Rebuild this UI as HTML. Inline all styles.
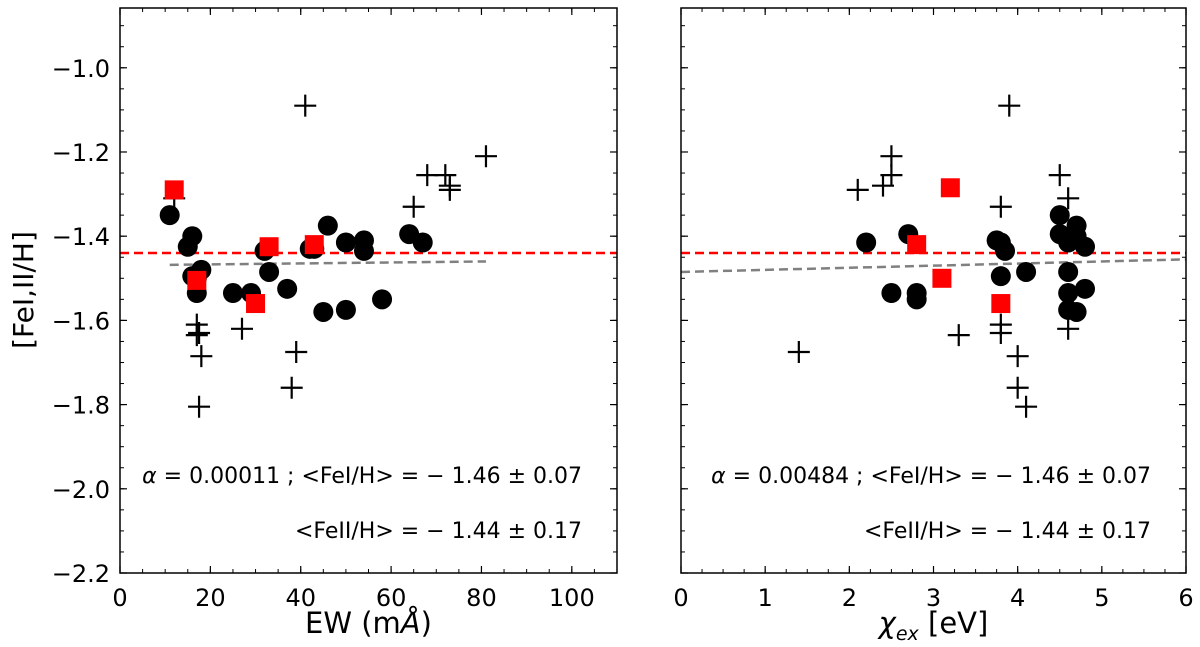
<!DOCTYPE html>
<html><head><meta charset="utf-8"><style>
body{margin:0;background:#fff}
svg text{font-family:"DejaVu Sans","Liberation Sans",sans-serif}
</style></head><body>
<svg id="c" width="1200" height="642"></svg>
<script>
const yTicks=[-2.2,-2.0,-1.8,-1.6,-1.4,-1.2,-1.0];
const xTicksL=[0,20,40,60,80,100];
const xTicksR=[0,1,2,3,4,5,6];
const circL_x=[11,16,15,16,18,17,17,25,29,32,33,37,43,45,46,50,50,54,54,58,64,67,42];
const circL_y=[-1.35,-1.40,-1.425,-1.495,-1.48,-1.535,-1.50,-1.535,-1.535,-1.435,-1.485,-1.525,-1.43,-1.58,-1.375,-1.575,-1.415,-1.41,-1.435,-1.55,-1.395,-1.415,-1.43];
const sqL_x=[12,17,30,33,43];
const sqL_y=[-1.29,-1.505,-1.56,-1.425,-1.42];
const crL_x=[12,17,17,17.5,18,17.5,27,39,38,41,65,68,72,73,73,81];
const crL_y=[-1.31,-1.61,-1.635,-1.63,-1.685,-1.805,-1.62,-1.675,-1.76,-1.09,-1.33,-1.255,-1.255,-1.28,-1.29,-1.21];
const circR_x=[2.2,2.7,2.5,2.8,2.8,3.8,3.85,3.8,4.1,4.5,4.5,4.6,4.7,4.8,4.6,4.6,4.8,4.6,4.7,4.7,3.75];
const circR_y=[-1.415,-1.395,-1.535,-1.535,-1.55,-1.415,-1.435,-1.495,-1.485,-1.35,-1.395,-1.415,-1.375,-1.425,-1.485,-1.535,-1.525,-1.575,-1.58,-1.40,-1.41];
const sqR_x=[3.2,2.8,3.1,3.8];
const sqR_y=[-1.285,-1.42,-1.5,-1.56];
const crR_x=[1.4,2.1,2.4,2.5,2.5,3.3,3.8,3.8,3.8,3.9,4.0,4.0,4.1,4.5,4.6,4.6];
const crR_y=[-1.675,-1.29,-1.28,-1.21,-1.255,-1.635,-1.33,-1.61,-1.63,-1.09,-1.685,-1.76,-1.805,-1.255,-1.31,-1.62];
const meanFe=-1.44;
const fitL_x=[11,81], fitL_y=[-1.468,-1.46];
const fitR_x=[0,6], fitR_y=[-1.485,-1.455];

const NS="http://www.w3.org/2000/svg", svg=document.getElementById('c');
function mk(t,a,p){const e=document.createElementNS(NS,t);for(const k in a)e.setAttribute(k,a[k]);(p||svg).appendChild(e);return e;}
const Y0=8,Y1=573,YMIN=-2.2,YMAX=-0.858;
const sy=v=>Y1-(v-YMIN)/(YMAX-YMIN)*(Y1-Y0);

function panel(name,L,R,xmin,xmax,xt,xminor,cx,cy,sx_,sy_,px,pyy,fx,fy,xl,stat1,stat2,showY){
  const g=mk('g',{});
  
  
  const sx=v=>L+(v-xmin)/(xmax-xmin)*(R-L);
  let l=mk('line',{x1:L,x2:R,y1:sy(meanFe),y2:sy(meanFe),stroke:'#f00','stroke-width':2.5,'stroke-dasharray':'9,5'},g);
  
  
  l=mk('line',{x1:sx(fx[0]),x2:sx(fx[1]),y1:sy(fy[0]),y2:sy(fy[1]),stroke:'#808080','stroke-width':2.5,'stroke-dasharray':'9,5'},g);
  
  
  cx.forEach((v,i)=>{const e=mk('circle',{cx:sx(v),cy:sy(cy[i]),r:10,fill:'#000'},g);
    
    });
  px.forEach((v,i)=>{const x=sx(v),y=sy(pyy[i]);const e=mk('path',{d:`M${x-11} ${y}H${x+11}M${x} ${y-11}V${y+11}`,stroke:'#000','stroke-width':2.2},g);
    
    });
  sx_.forEach((v,i)=>{const e=mk('rect',{x:sx(v)-9.5,y:sy(sy_[i])-9.5,width:19,height:19,fill:'#f00'},g);
    
    });
  xt.forEach(v=>{const x=sx(v);mk('line',{x1:x,x2:x,y1:Y1,y2:Y1-7,stroke:'#000','stroke-width':1.2},g);mk('line',{x1:x,x2:x,y1:Y0,y2:Y0+7,stroke:'#000','stroke-width':1.2},g);
    const t=mk('text',{x:x,y:Y1+33,'text-anchor':'middle','font-size':24},g);t.textContent=v;
    
    });
  for(let v=xmin;v<=xmax+1e-9;v+=xminor){const x=sx(v);mk('line',{x1:x,x2:x,y1:Y1,y2:Y1-4,stroke:'#000'},g);mk('line',{x1:x,x2:x,y1:Y0,y2:Y0+4,stroke:'#000'},g);}
  yTicks.forEach(v=>{const y=sy(v);mk('line',{x1:L,x2:L+7,y1:y,y2:y,stroke:'#000','stroke-width':1.2},g);mk('line',{x1:R,x2:R-7,y1:y,y2:y,stroke:'#000','stroke-width':1.2},g);
    if(showY){const t=mk('text',{x:L-10,y:y+9,'text-anchor':'end','font-size':24},g);t.textContent=(v<0?'\u2212':'')+Math.abs(v).toFixed(1);
    
    }});
  for(let v=-2.2;v<=-0.86;v+=0.05){const y=sy(v);mk('line',{x1:L,x2:L+4,y1:y,y2:y,stroke:'#000'},g);mk('line',{x1:R,x2:R-4,y1:y,y2:y,stroke:'#000'},g);}
  mk('rect',{x:L,y:Y0,width:R-L,height:Y1-Y0,fill:'none',stroke:'#000','stroke-width':1.5},g);
  let t=mk('text',{x:R-35,y:483,'text-anchor':'end','font-size':22},g);t.innerHTML=stat1;
  
  
  t=mk('text',{x:R-35,y:538,'text-anchor':'end','font-size':22},g);t.textContent=stat2;
  
  
  t=mk('text',{x:(L+R)/2,y:633,'text-anchor':'middle','font-size':29},g);t.innerHTML=xl;
  
  
}
panel('ew-panel',120,617,0,110,xTicksL,5,circL_x,circL_y,sqL_x,sqL_y,crL_x,crL_y,fitL_x,fitL_y,
 'EW (m<tspan font-style="italic">Å</tspan>)','<tspan font-style="italic">α</tspan> = 0.00011 ; &lt;FeI/H&gt; = − 1.46 ± 0.07','<FeII/H> = − 1.44 ± 0.17',true);
panel('chi-panel',681,1186,0,6,xTicksR,0.25,circR_x,circR_y,sqR_x,sqR_y,crR_x,crR_y,fitR_x,fitR_y,
 '<tspan font-style="italic">χ</tspan><tspan font-style="italic" font-size="19" dy="7">ex</tspan><tspan dy="-7"> [eV]</tspan>','<tspan font-style="italic">α</tspan> = 0.00484 ; &lt;FeI/H&gt; = − 1.46 ± 0.07','<FeII/H> = − 1.44 ± 0.17',false);
const yl=mk('text',{x:0,y:0,'text-anchor':'middle','font-size':28,transform:`translate(33 290) rotate(-90)`});
yl.textContent='[FeI,II/H]';


</script>
</body></html>
